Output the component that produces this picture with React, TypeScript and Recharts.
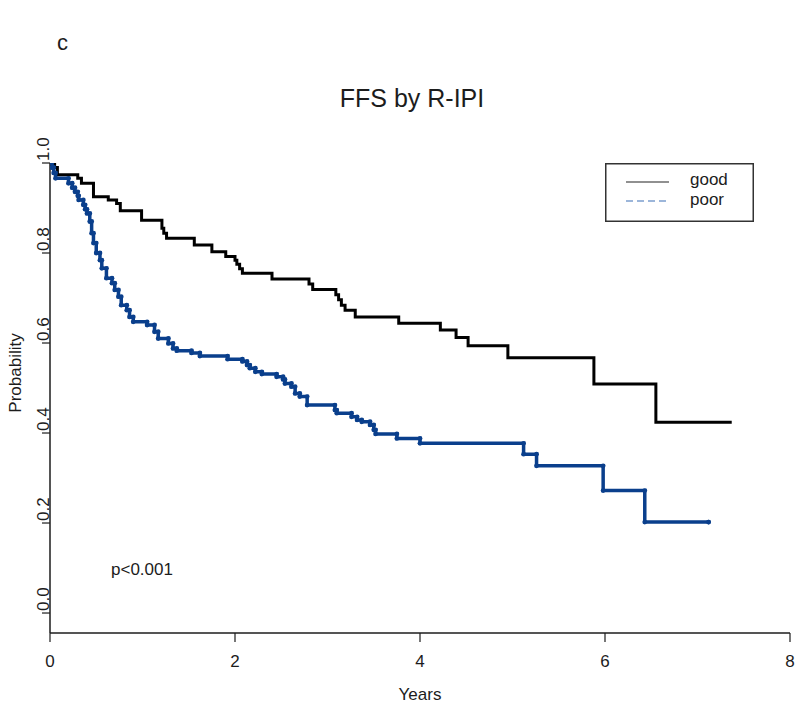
// FFS by R-IPI — Kaplan–Meier style step curves, good vs poor risk group.
import { ComposedChart, Line, Scatter, XAxis, YAxis, Legend } from "recharts";

const FONT = '"Liberation Sans", Arial, sans-serif';
const INK = "#1c1c1c";
const BLUE = "#0a3f8c";

// years / survival probability
const goodTimes = [
  0, 0.05, 0.08, 0.3, 0.34, 0.47, 0.63, 0.72, 0.76, 0.99, 1.21, 1.23, 1.26, 1.56, 1.75, 1.9, 2.0,
  2.02, 2.05, 2.08, 2.4, 2.8, 2.84, 3.09, 3.12, 3.15, 3.19, 3.3, 3.77, 4.22, 4.39, 4.52, 4.95, 5.88,
  6.55, 7.37,
];
const goodSurv = [
  1.0, 0.99, 0.974, 0.966, 0.955, 0.925, 0.918, 0.91, 0.894, 0.873, 0.855, 0.844, 0.833, 0.818,
  0.803, 0.792, 0.784, 0.775, 0.765, 0.755, 0.742, 0.731, 0.719, 0.707, 0.696, 0.684, 0.673, 0.658,
  0.644, 0.629, 0.612, 0.594, 0.567, 0.509, 0.424, 0.424,
];

const poorTimes = [
  0, 0.02, 0.04, 0.06, 0.2, 0.24, 0.27, 0.3, 0.31, 0.36, 0.38, 0.4, 0.43, 0.45, 0.47, 0.5, 0.54,
  0.56, 0.61, 0.67, 0.7, 0.74, 0.77, 0.83, 0.86, 0.9, 1.05, 1.13, 1.17, 1.28, 1.33, 1.37, 1.53,
  1.62, 1.92, 2.08, 2.13, 2.16, 2.22, 2.29, 2.45, 2.52, 2.54, 2.61, 2.65, 2.7, 2.78, 3.08, 3.1,
  3.26, 3.32, 3.37, 3.46, 3.5, 3.52, 3.75, 4.0, 5.12, 5.26, 5.98, 6.43, 7.12,
];
const poorSurv = [
  1.0, 0.99, 0.978, 0.966, 0.955, 0.945, 0.936, 0.927, 0.918, 0.907, 0.897, 0.888, 0.87, 0.844,
  0.822, 0.8, 0.784, 0.766, 0.744, 0.733, 0.718, 0.703, 0.684, 0.673, 0.658, 0.647, 0.64, 0.625,
  0.61, 0.599, 0.588, 0.583, 0.578, 0.571, 0.564, 0.559, 0.551, 0.544, 0.536, 0.531, 0.525, 0.519,
  0.51, 0.503, 0.488, 0.481, 0.462, 0.451, 0.444, 0.436, 0.429, 0.425, 0.418, 0.407, 0.398, 0.388,
  0.377, 0.353, 0.327, 0.272, 0.202, 0.202,
];

const xTicks = [0, 2, 4, 6, 8];
const yTicks = [0, 0.2, 0.4, 0.6, 0.8, 1.0];
const groups = ["good", "poor"];

const goodData = goodTimes.map((t, i) => ({ t, v: goodSurv[i] }));
const poorData = poorTimes.map((t, i) => ({ t, v: poorSurv[i] }));
// little marks on both corners of every blue step
const poorMarks = poorTimes.slice(1).flatMap((t, i) => [
  { t, v: poorSurv[i] },
  { t, v: poorSurv[i + 1] },
]);

function YTick({ x, y, payload }: any) {
  return (
    <g>
      <line x1={x - 8} x2={x} y1={y} y2={y} stroke={INK} strokeWidth={1.2} />
      <text
        transform={`translate(${x - 1},${y - 2}) rotate(-90)`}
        textAnchor="start"
        fontSize={17}
        fontFamily={FONT}
        fill={INK}
      >
        {Number(payload.value).toFixed(1)}
      </text>
    </g>
  );
}

function LegendBox() {
  return (
    <svg width={149} height={59} style={{ display: "block" }}>
      <rect x={0.75} y={0.75} width={147.5} height={57.5} fill="#fff" stroke="#333" strokeWidth={1.5} />
      <line x1={21} x2={64} y1={19} y2={19} stroke="#222" strokeWidth={1.2} />
      <line x1={21} x2={64} y1={38} y2={38} stroke="#3a6fb5" strokeWidth={1.2} strokeDasharray="7 4" />
      <text x={85} y={22} fontSize={17} fontFamily={FONT} fill={INK}>
        {groups[0]}
      </text>
      <text x={85} y={41.5} fontSize={17} fontFamily={FONT} fill={INK}>
        {groups[1]}
      </text>
    </svg>
  );
}

export default function App() {
  return (
    <div style={{ position: "absolute", left: 0, top: 0, width: 800, height: 709, background: "#fff" }}>
      <ComposedChart width={800} height={709} margin={{ top: 163, right: 10, bottom: 16, left: 0 }}>
        <XAxis
          type="number"
          dataKey="t"
          domain={[0, 8]}
          ticks={xTicks}
          allowDataOverflow
          height={60}
          tickSize={9}
          tickMargin={13}
          stroke={INK}
          axisLine={{ stroke: INK, strokeWidth: 1.5 }}
          tickLine={{ stroke: INK, strokeWidth: 1.2 }}
          tick={{ fontSize: 17, fill: INK, fontFamily: FONT }}
        />
        <YAxis
          type="number"
          dataKey="v"
          domain={[-0.0444, 1]}
          ticks={yTicks}
          allowDataOverflow
          width={50}
          tickSize={0}
          tickMargin={0}
          tickLine={false}
          axisLine={{ stroke: INK, strokeWidth: 1.5 }}
          tick={<YTick />}
        />
        <Legend
          layout="horizontal"
          verticalAlign="middle"
          align="center"
          wrapperStyle={{ left: 605, top: 163, width: 149, height: 59 }}
          content={() => <LegendBox />}
        />
        <Line
          data={goodData}
          dataKey="v"
          type="stepAfter"
          stroke="#000"
          strokeWidth={3}
          dot={false}
          isAnimationActive={false}
        />
        <Line
          data={poorData}
          dataKey="v"
          type="stepAfter"
          stroke={BLUE}
          strokeWidth={3.5}
          dot={false}
          isAnimationActive={false}
        />
        <Scatter
          data={poorMarks}
          dataKey="v"
          fill={BLUE}
          isAnimationActive={false}
          shape={(p: any) => <circle cx={p.cx} cy={p.cy} r={2.4} fill={BLUE} />}
        />
      </ComposedChart>
      <svg
        width={800}
        height={709}
        style={{ position: "absolute", left: 0, top: 0, pointerEvents: "none" }}
        fontFamily={FONT}
        fill={INK}
      >
        <text x={57} y={50} fontSize={22}>
          c
        </text>
        <text x={412} y={107} fontSize={25} textAnchor="middle">
          FFS by R-IPI
        </text>
        <text transform="translate(21,373) rotate(-90)" fontSize={17} textAnchor="middle">
          Probability
        </text>
        <text x={420} y={700} fontSize={17} textAnchor="middle">
          Years
        </text>
        <text x={111} y={575} fontSize={17}>
          p&lt;0.001
        </text>
      </svg>
    </div>
  );
}
